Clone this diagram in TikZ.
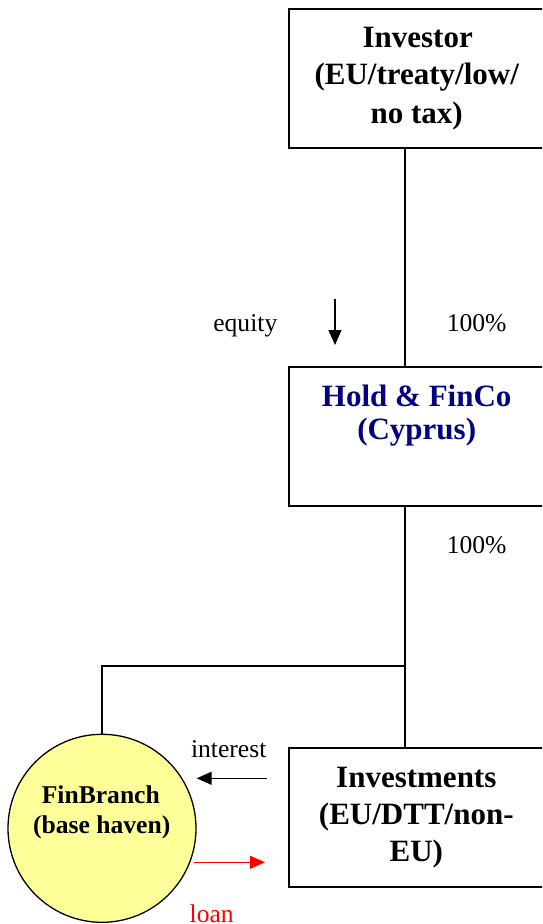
\documentclass[tikz,border=0pt]{standalone}
\usepackage{fontspec}
\setmainfont{Liberation Serif}
\usetikzlibrary{arrows.meta}
\definecolor{navyblue}{HTML}{000080}
\definecolor{paleyellow}{HTML}{FFFF99}
\definecolor{loanred}{HTML}{FF0000}
\begin{document}
\begin{tikzpicture}[x=1pt,y=-1pt,
  entity/.style={draw, line width=2pt, minimum width=256pt, minimum height=139pt, inner sep=0pt},
  haven/.style={circle, draw, fill=paleyellow, line width=1.3pt, minimum size=188pt, inner sep=0pt},
  wire/.style={line width=1.3pt},
  flow/.style={line width=1.3pt, -{Triangle[length=15pt,width=13pt]}},
  title/.style={font=\fontsize{31}{37}\selectfont\bfseries, anchor=base, inner sep=0pt},
  circtext/.style={font=\fontsize{25.6}{30}\selectfont\bfseries, anchor=base, inner sep=0pt},
  small/.style={font=\fontsize{25.6}{30}\selectfont, anchor=base, inner sep=0pt},
  ]
\useasboundingbox (0,0) rectangle (542,924);
\begin{scope}
\clip (0,0) rectangle (542,924);

% entities
\node[entity] (investor) at (417,78.5) {};
\node[entity] (hold) at (417,436) {};
\node[entity] (invest) at (417,817) {};
\node[haven] (branch) at (102,828.3) {};

% ownership lines
\coordinate (trunk) at (405,0);
\coordinate (split) at (405,666);
\draw[wire] (investor.south -| trunk) -- (hold.north -| trunk);
\draw[wire] (hold.south -| trunk) -- (invest.north -| trunk);
\draw[wire] (split) -| (branch.north);

% flows
\coordinate (eqtop) at (335,299);
\coordinate (eqtip) at (335,345);
\draw[flow] (eqtop) -- (eqtip);
\coordinate (intfrom) at (266.7,778.3);
\coordinate (intto) at (196.7,778.3);
\draw[flow] (intfrom) -- (intto);
\coordinate (loanfrom) at (194.3,862.3);
\coordinate (loanto) at (265,862.3);
\draw[flow, loanred] (loanfrom) -- (loanto);

% box texts
\node[title] (inv1) at (417.7,47.3) {Investor};
\node[title] (inv2) at (416.7,84.5) {(EU/treaty/low/};
\node[title] (inv3) at (416.7,123) {no tax)};
\node[title, text=navyblue] (hold1) at (416.7,406) {Hold \& FinCo};
\node[title, text=navyblue] (hold2) at (416.7,439.5) {(Cyprus)};
\node[title] (ivt1) at (416.3,787) {Investments};
\node[title] (ivt2) at (416.3,824) {(EU/DTT/non-};
\node[title] (ivt3) at (416.3,861) {EU)};
\node[circtext] (br1) at (100.8,803.3) {FinBranch};
\node[circtext] (br2) at (101.7,833.3) {(base haven)};

% labels
\node[small] (eqlab) at (245.3,331.7) {equity};
\node[small] (pct1) at (476.7,331.7) {100\%};
\node[small] (pct2) at (476.7,553.3) {100\%};
\node[small] (intlab) at (228.7,757.3) {interest};
\node[small, text=loanred] (loanlab) at (211.7,922) {loan};
\end{scope}
\end{tikzpicture}
\end{document}
